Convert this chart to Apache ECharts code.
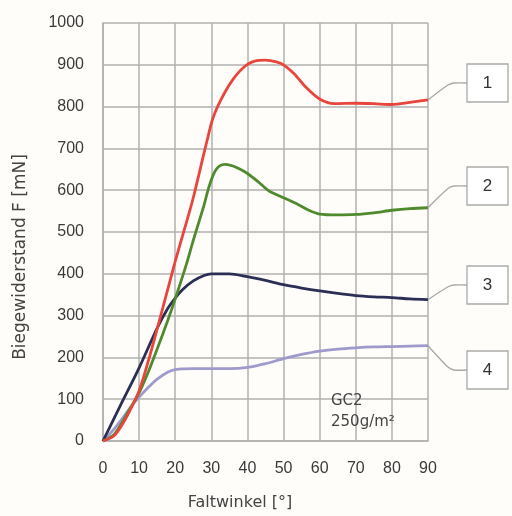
<!DOCTYPE html>
<html><head><meta charset="utf-8">
<script src="https://cdn.jsdelivr.net/npm/echarts@6/dist/echarts.min.js"></script>
<style>html,body{margin:0;padding:0;background:#fffdf9}#c{width:512px;height:516px}</style>
</head><body><div id="c"></div>
<script>
const xTicks = [0,10,20,30,40,50,60,70,80,90];
const curve1 = [[0,0],[3,12],[5,35],[7,65],[10,120],[13,205],[15,268],[18,365],[20,430],[23,520],[25,582],[28,690],[29,725],[30,760],[31,785],[32,805],[34,838],[36,865],[38,886],[40,901],[42,909],[45,911],[48,907],[50,900],[53,878],[56,848],[60,818],[64,807],[70,808],[75,807],[80,805],[85,810],[90,816]];
const curve2 = [[0,0],[3,15],[5,40],[7,70],[10,115],[13,175],[15,220],[18,290],[20,340],[23,420],[25,480],[28,565],[29,598],[30,625],[31,645],[32,656],[33,661],[34,662],[36,658],[38,650],[40,640],[43,620],[46,598],[50,582],[54,566],[57,552],[60,543],[65,541],[70,542],[75,546],[80,552],[85,556],[90,558]];
const curve3 = [[0,0],[5,88],[10,175],[15,270],[18,318],[20,342],[22,362],[25,383],[28,396],[30,400],[35,400],[40,393],[45,384],[50,374],[55,366],[60,359],[65,353],[70,348],[75,345],[80,343],[85,340],[90,338]];
const curve4 = [[0,0],[3,28],[5,50],[8,85],[10,105],[13,132],[15,148],[18,165],[20,171],[25,173],[30,173],[35,173],[40,176],[45,185],[50,197],[55,207],[60,215],[65,220],[70,223],[75,225],[80,226],[85,227],[90,228]];
const labels = ['1','2','3','4'];
const colors = ['#e8453c','#4f8a2e','#2b2f55','#9e9acb'];
const boxY = [83,186,285,370];

const chart = echarts.init(document.getElementById('c'));
const font = 'Liberation Sans, Arial, sans-serif';
const font2 = 'DejaVu Sans, sans-serif';
const series = [curve1,curve2,curve3,curve4].map((d,i)=>({
  type:'line', data:d, smooth:0.3, showSymbol:false, symbol:'none',
  lineStyle:{color:colors[i], width:2.8}, z: 5-i
}));
chart.setOption({
  backgroundColor:'#fffdf9',
  animation:false,
  grid:{left:103,right:84,top:23,bottom:74},
  xAxis:{type:'value',min:0,max:90,interval:10,
    name:'Faltwinkel [°]',nameLocation:'middle',nameGap:54,
    nameTextStyle:{fontSize:16,color:'#444',fontFamily:font2,padding:[0,51,0,0]},
    axisLine:{show:true,lineStyle:{color:'#b0b0b0',width:1.5}},
    axisTick:{show:false},
    axisLabel:{fontSize:16,color:'#3a3a3a',margin:20,fontFamily:font},
    splitLine:{show:true,lineStyle:{color:'#b0b0b0',width:1.5}}},
  yAxis:{type:'value',min:0,max:1000,interval:100,
    name:'Biegewiderstand F [mN]',nameLocation:'middle',nameGap:74,
    nameTextStyle:{fontSize:17,color:'#444',fontFamily:font2,padding:[0,50,0,0]},
    axisLine:{show:true,lineStyle:{color:'#b0b0b0',width:1.5}},
    axisTick:{show:false},
    axisLabel:{fontSize:16,color:'#3a3a3a',margin:19,fontFamily:font,formatter:v=>String(v)},
    splitLine:{show:true,lineStyle:{color:'#b0b0b0',width:1.5}}},
  series:series
});

const ends = [curve1,curve2,curve3,curve4].map(d=>chart.convertToPixel({gridIndex:0}, d[d.length-1]));
const graphic = [];
ends.forEach((p,i)=>{
  const by = boxY[i];
  graphic.push({type:'polyline', shape:{points:[[p[0],p[1]],[p[0]+20,by+(p[1]-by)*0.12],[p[0]+26,by],[467,by]], smooth:0.25},
    style:{stroke:'#a8a8a8', lineWidth:1.3, fill:null}, z:10});
  graphic.push({type:'rect', shape:{x:467,y:by-19,width:41,height:38},
    style:{fill:'#ffffff', stroke:'#aaaaaa', lineWidth:1.3}, z:10});
  graphic.push({type:'text', x:487.5, y:by, style:{text:labels[i], fill:'#333', align:'center', verticalAlign:'middle', font:'17px '+font}, z:11});
});
graphic.push({type:'text', x:331, y:401, style:{text:'GC2', fill:'#444', verticalAlign:'middle', font:'15px '+font2}, z:11});
graphic.push({type:'text', x:331, y:422, style:{text:'250g/m²', fill:'#444', verticalAlign:'middle', font:'15px '+font2}, z:11});
chart.setOption({graphic:graphic});
</script></body></html>
